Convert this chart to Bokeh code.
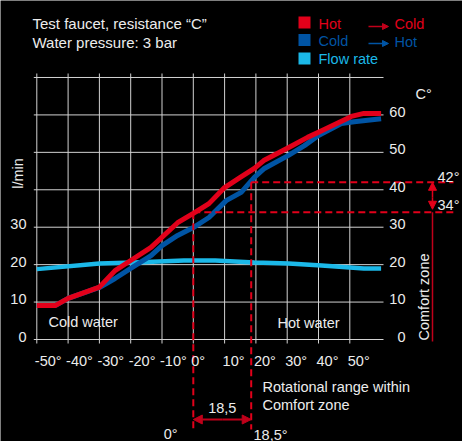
import math
from bokeh.plotting import figure
from bokeh.models import Arrow, NormalHead
from bokeh.core.properties import value
from bokeh.embed import file_html
from bokeh.resources import INLINE

# ---------------- data ----------------
x_ticks = [-50, -40, -30, -20, -10, 0, 10, 20, 30, 40, 50]
x_tick_labels = ["-50°", "-40°", "-30°", "-20°", "-10°", "0°", "10°", "20°", "30°", "40°", "50°"]
y_grid = [0, 10, 20, 30, 40, 50, 60, 70]
flow_ticks = [0, 10, 20, 30]
flow_tick_labels = ["0", "10", "20", "30"]
temp_ticks = [0, 10, 20, 30, 40, 50, 60]
temp_tick_labels = ["0", "10", "20", "30", "40", "50", "60"]

hot_to_cold_x = [-50, -44, -40, -30, -25, -20, -13.5, -5, 0, 5, 10, 15, 19.5, 22.5, 30.5, 36.5, 41, 50.5, 54.5, 60]
hot_to_cold_y = [9.1, 9.1, 11, 14, 18.4, 21.1, 24.6, 31.2, 33.7, 36.3, 40.6, 43.3, 45.7, 47.8, 51.3, 54, 55.8, 59.6, 60.4, 60.4]

cold_to_hot_x = [-50, -44, -40, -30, -25, -20, -13.5, -10, -5, 0, 5, 10.5, 15.3, 19.5, 22.7, 30.4, 35.5, 40, 47.3, 51.4, 60]
cold_to_hot_y = [9.1, 9.1, 11, 13.9, 16.3, 19, 22.4, 25.1, 27.8, 29.9, 32.6, 37.1, 39.3, 43.3, 45.7, 49.2, 51.8, 54.5, 57.7, 58.2, 59]

flow_x = [-50, -30, -19, -3, 7, 19.5, 30.5, 41, 54.5, 60]
flow_y = [18.8, 20.3, 20.6, 21.1, 21.1, 20.6, 20.3, 19.8, 19.0, 19.0]

comfort_low = 34
comfort_high = 42
rot_start = 0
rot_end = 18.5

# ---------------- layout helpers ----------------
W, H = 462, 441
X0, SX = 192.8, 3.13     # px of x=0, px per degree
Y0, SY = 339.0, 3.743    # px of y=0, px per unit


def dx(px):
    return (px - X0) / SX


def dy(py):
    return (Y0 - py) / SY


RED = "#e2001a"
DRED = "#c0001a"
BLUE = "#0054a4"
LBLUE = "#1bb8e8"
TXT = "#ececec"
GRID = "#d2d2d2"
FONT = "Liberation Sans"
FS = "14.5px"

p = figure(width=W, height=H, output_backend="svg", toolbar_location=None,
           x_range=(dx(0), dx(W)), y_range=(dy(H), dy(0)),
           x_axis_location=None, y_axis_location=None,
           min_border=0, background_fill_color="black", border_fill_color="black",
           outline_line_color=None)
p.grid.visible = False


def txt(x, y, s, align="left", color=TXT, size=FS, angle=0.0, yoff=0, xoff=0):
    p.text(x=x, y=y, text=s, text_align=align, text_baseline="middle",
           text_color=color, text_font=value(FONT), text_font_size=size,
           angle=angle, y_offset=yoff, x_offset=xoff)


# grid (with outward tick stubs)
x_left = x_ticks[0] - 3 / SX
x_right = dx(383)
p.segment(x0=[x_left] * len(y_grid), x1=[x_right] * len(y_grid), y0=y_grid, y1=y_grid,
          line_color=GRID, line_width=1)
y_bot = y_grid[0] - 4 / SY
y_top = y_grid[-1] + 4 / SY
p.segment(x0=x_ticks, x1=x_ticks, y0=[y_bot] * len(x_ticks), y1=[y_top] * len(x_ticks),
          line_color=GRID, line_width=1)

# curves
p.line(flow_x, flow_y, line_color=LBLUE, line_width=4.5)
p.line(cold_to_hot_x, cold_to_hot_y, line_color=BLUE, line_width=5)
p.line(hot_to_cold_x, hot_to_cold_y, line_color=RED, line_width=5)

# dashed comfort-zone guides
dash_bottom = dy(429)
dash_right = dx(453)
p.segment(x0=[rot_start, rot_end], x1=[rot_start, rot_end],
          y0=[comfort_low, comfort_high], y1=[dash_bottom, dash_bottom],
          line_color=RED, line_width=2, line_dash="7 4")
p.segment(x0=[rot_start, rot_end], x1=[dash_right, dash_right],
          y0=[comfort_low, comfort_high], y1=[comfort_low, comfort_high],
          line_color=RED, line_width=2, line_dash="7 4")

# comfort zone vertical arrow + line
cz_x = dx(432)
p.segment(x0=[cz_x], x1=[cz_x], y0=[comfort_low], y1=[dy(341)], line_color=DRED, line_width=1.5)
p.add_layout(Arrow(x_start=cz_x, y_start=(comfort_low + comfort_high) / 2, x_end=cz_x, y_end=comfort_high,
                   line_color=RED, line_width=1.5,
                   end=NormalHead(size=8, fill_color=RED, line_color=RED)))
p.add_layout(Arrow(x_start=cz_x, y_start=(comfort_low + comfort_high) / 2, x_end=cz_x, y_end=comfort_low + 0.8,
                   line_color=RED, line_width=1.5,
                   end=NormalHead(size=8, fill_color=RED, line_color=RED)))

# rotational range arrow
ra_y = dy(419)
mid = (rot_start + rot_end) / 2
p.add_layout(Arrow(x_start=mid, y_start=ra_y, x_end=rot_start, y_end=ra_y, line_color=DRED, line_width=2,
                   end=NormalHead(size=9, fill_color=DRED, line_color=DRED)))
p.add_layout(Arrow(x_start=mid, y_start=ra_y, x_end=rot_end, y_end=ra_y, line_color=DRED, line_width=2,
                   end=NormalHead(size=9, fill_color=DRED, line_color=DRED)))

# tick labels
txt(x_ticks, [dy(360)] * len(x_ticks), x_tick_labels, align="left", xoff=-2)
txt([dx(26)] * len(flow_ticks), flow_ticks, flow_tick_labels, align="right", yoff=-3)
txt([dx(405)] * len(temp_ticks), temp_ticks, temp_tick_labels, align="right", yoff=-3)
txt([dx(415)], [dy(93)], ["C°"])
txt([dx(17)], [dy(173)], ["l/min"], align="center", angle=math.pi / 2)

# titles
txt([dx(32)], [dy(23)], ["Test faucet, resistance “C”"], size="15px")
txt([dx(32)], [dy(42)], ["Water pressure: 3 bar"], size="15px")

# legend
p.scatter(x=[dx(304)] * 3, y=[dy(22), dy(39.5), dy(58)], marker="square", size=12,
          fill_color=[RED, BLUE, LBLUE], line_color=None)
txt([dx(318)], [dy(23)], ["Hot"], color=RED)
txt([dx(318)], [dy(40.5)], ["Cold"], color=BLUE)
txt([dx(318)], [dy(58.5)], ["Flow rate"], color=LBLUE)
p.add_layout(Arrow(x_start=dx(368), y_start=dy(26), x_end=dx(388), y_end=dy(26), line_color=DRED, line_width=1.5,
                   end=NormalHead(size=6, fill_color=DRED, line_color=DRED)))
p.add_layout(Arrow(x_start=dx(368), y_start=dy(43), x_end=dx(388), y_end=dy(43), line_color=BLUE, line_width=1.5,
                   end=NormalHead(size=6, fill_color=BLUE, line_color=BLUE)))
txt([dx(394)], [dy(23)], ["Cold"], color=RED)
txt([dx(394)], [dy(41)], ["Hot"], color=BLUE)

# annotations
txt([dx(48)], [dy(321)], ["Cold water"])
txt([dx(277)], [dy(322)], ["Hot water"])
txt([dx(437)], [dy(176)], ["42°"])
txt([dx(437)], [dy(204)], ["34°"])
txt([dx(423)], [dy(340)], ["Comfort zone"], angle=math.pi / 2)
txt([dx(262)], [dy(386)], ["Rotational range within"])
txt([dx(262)], [dy(404)], ["Comfort zone"])
txt([mid], [dy(407)], ["18,5"], align="center")
txt([dx(177)], [dy(433)], ["0°"], align="right")
txt([dx(253)], [dy(434)], ["18,5°"])

open("out.html", "w").write(file_html(p, INLINE))
